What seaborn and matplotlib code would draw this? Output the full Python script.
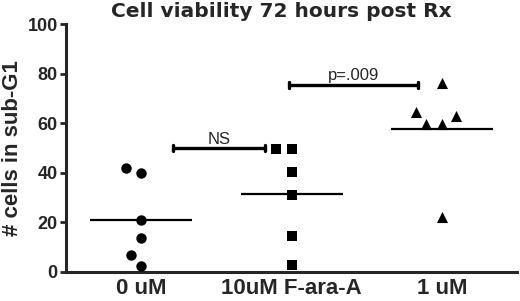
import numpy as np
import pandas as pd
import seaborn as sns
import matplotlib.pyplot as plt

groups = ["0 uM", "10uM F-ara-A", "1 uM"]
vals_0um = [41.7, 39.8, 20.8, 13.7, 6.8, 2.2]
vals_10um = [49.4, 49.6, 40.3, 30.8, 14.3, 2.6]
vals_1um = [76.0, 64.5, 63.0, 59.6, 59.6, 22.1]
markers = ["o", "s", "^"]
marker_sizes = [7.5, 7, 8]

y_ticks = [0, 20, 40, 60, 80, 100]
comparisons = [(0.21, 0.82, 49.8, "NS"), (0.98, 1.84, 75.4, "p=.009")]

sns.set_theme(style="ticks")
plt.rcParams["font.family"] = ["Liberation Sans", "DejaVu Sans"]

df = pd.DataFrame({
    "group": np.repeat(groups, 6),
    "cells": vals_0um + vals_10um + vals_1um,
})

fig = plt.figure(figsize=(5.2, 3.01), dpi=100)
ax = fig.add_axes([0.127, 0.098, 0.868, 0.822])

# swarm with a wider spacing than the marker size, like the Prism scatter
group_colls = []
for g, m in zip(groups, markers):
    sub = df[df["group"] == g]
    n_before = len(ax.collections)
    sns.swarmplot(data=sub, x="group", y="cells", order=groups, marker=m,
                  color="black", size=11, linewidth=0, ax=ax)
    group_colls.append(list(ax.collections[n_before:]))
ax.set_xlim(-0.5, 2.5)
ax.set_ylim(0, 100)
fig.canvas.draw()
for colls, ms in zip(group_colls, marker_sizes):
    for coll in colls:
        offs = coll.get_offsets().copy()
        if "draw" in coll.__dict__:
            del coll.draw
        coll.set_offsets(offs)
        coll.set_sizes([ms ** 2])

# mean lines
means = df.groupby("group", sort=False)["cells"].mean()
for i, g in enumerate(groups):
    ax.hlines(means[g], i - 0.34, i + 0.34, color="black", lw=1.6, zorder=1)

# significance brackets
for x1, x2, y, txt in comparisons:
    ax.plot([x1, x2], [y, y], color="black", lw=2.4, solid_capstyle="butt")
    ax.plot([x1, x1], [y - 1.2, y + 1.2], color="black", lw=2.4)
    ax.plot([x2, x2], [y - 1.2, y + 1.2], color="black", lw=2.4)
    ax.text((x1 + x2) / 2, y + 0.6, txt, ha="center", va="bottom", fontsize=12)

ax.set_yticks(y_ticks)
ax.set_xlabel("")
ax.set_ylabel("# cells in sub-G1", fontsize=16, fontweight="bold", labelpad=3)
ax.set_title("Cell viability 72 hours post Rx", fontsize=14.5, fontweight="bold",
             family="DejaVu Sans", x=0.478, pad=5)

for lbl in ax.get_xticklabels() + ax.get_yticklabels():
    lbl.set_fontweight("bold")
ax.tick_params(axis="y", labelsize=13, width=2, length=4, pad=2)
ax.tick_params(axis="x", labelsize=16, length=0, pad=5)
for s in ["left", "bottom"]:
    ax.spines[s].set_linewidth(2.2)
sns.despine(ax=ax)

fig.savefig("out.png", dpi=100)
